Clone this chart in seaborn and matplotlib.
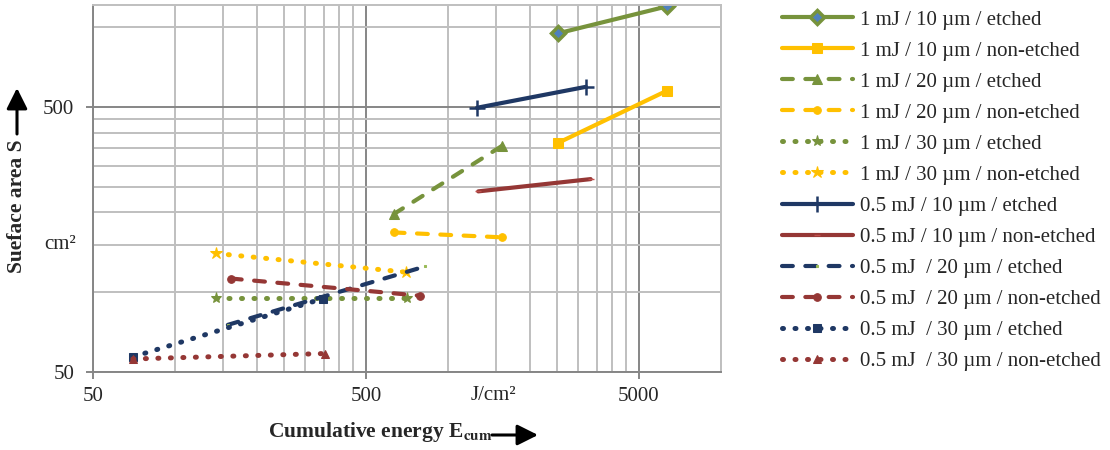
import matplotlib
matplotlib.use("Agg")
import matplotlib.pyplot as plt
from matplotlib.patches import FancyArrowPatch
import seaborn as sns
import pandas as pd

# ---------------- data ----------------
labels = [
    "1 mJ / 10 µm / etched",
    "1 mJ / 10 µm / non-etched",
    "1 mJ / 20 µm / etched",
    "1 mJ / 20 µm / non-etched",
    "1 mJ / 30 µm / etched",
    "1 mJ / 30 µm / non-etched",
    "0.5 mJ / 10 µm / etched",
    "0.5 mJ / 10 µm / non-etched",
    "0.5 mJ  / 20 µm / etched",
    "0.5 mJ  / 20 µm / non-etched",
    "0.5 mJ  / 30 µm / etched",
    "0.5 mJ  / 30 µm / non-etched",
]
e_1mJ_10_etched = [2520, 6330]
s_1mJ_10_etched = [946, 1196]
e_1mJ_10_non = [2520, 6330]
s_1mJ_10_non = [365, 575]
e_1mJ_20_etched = [632, 1574]
s_1mJ_20_etched = [197, 356]
e_1mJ_20_non = [632, 1580]
s_1mJ_20_non = [168, 161]
e_1mJ_30_etched = [141, 706]
s_1mJ_30_etched = [95, 95]
e_1mJ_30_non = [141, 700]
s_1mJ_30_non = [140, 119]
e_05mJ_10_etched = [1276, 3200]
s_05mJ_10_etched = [496, 595]
e_05mJ_10_non = [1290, 3330]
s_05mJ_10_non = [240, 267]
e_05mJ_20_etched = [156, 822]
s_05mJ_20_etched = [75.3, 125]
e_05mJ_20_non = [160, 790]
s_05mJ_20_non = [112.6, 97]
e_05mJ_30_etched = [70, 348]
s_05mJ_30_etched = [57, 94.6]
e_05mJ_30_non = [70, 354]
s_05mJ_30_non = [56, 58.7]

x_major = [50, 500, 5000]
x_major_labels = ["50", "500", "5000"]
x_minor = [100, 150, 200, 250, 300, 350, 400, 450,
           1000, 1500, 2000, 2500, 3000, 3500, 4000, 4500, 10000]
y_major = [50, 500]
y_major_labels = ["50", "500"]
y_minor = [100, 150, 200, 250, 300, 350, 400, 450, 1000]

series_x = [e_1mJ_10_etched, e_1mJ_10_non, e_1mJ_20_etched, e_1mJ_20_non,
            e_1mJ_30_etched, e_1mJ_30_non, e_05mJ_10_etched, e_05mJ_10_non,
            e_05mJ_20_etched, e_05mJ_20_non, e_05mJ_30_etched, e_05mJ_30_non]
series_y = [s_1mJ_10_etched, s_1mJ_10_non, s_1mJ_20_etched, s_1mJ_20_non,
            s_1mJ_30_etched, s_1mJ_30_non, s_05mJ_10_etched, s_05mJ_10_non,
            s_05mJ_20_etched, s_05mJ_20_non, s_05mJ_30_etched, s_05mJ_30_non]

# ---------------- styles ----------------
GREEN = "#77933C"
YELLOW = "#FFC000"
NAVY = "#1F3864"
RED = "#953735"
SOLID = "-"
DASH = (0, (2.6, 3.0))
DOT = (0, (0.2, 2.3))

styles = [
    dict(color=GREEN, linestyle=SOLID, linewidth=3.0, marker="D", markersize=7, markerfacecolor="#4F81BD", markeredgecolor=GREEN, markeredgewidth=2.5),
    dict(color=YELLOW, linestyle=SOLID, linewidth=3.0, marker="s", markersize=6.5, markerfacecolor=YELLOW, markeredgecolor=YELLOW),
    dict(color=GREEN, linestyle=DASH, linewidth=3.0, marker="^", markersize=7, markerfacecolor=GREEN, markeredgecolor=GREEN),
    dict(color=YELLOW, linestyle=DASH, linewidth=3.0, marker="o", markersize=5.5, markerfacecolor=YELLOW, markeredgecolor=YELLOW),
    dict(color=GREEN, linestyle=DOT, linewidth=3.6, marker="*", markersize=8, markerfacecolor=GREEN, markeredgecolor=GREEN),
    dict(color=YELLOW, linestyle=DOT, linewidth=3.6, marker="*", markersize=9, markerfacecolor=YELLOW, markeredgecolor=YELLOW),
    dict(color=NAVY, linestyle=SOLID, linewidth=3.0, marker="+", markersize=12, markeredgewidth=1.8, markeredgecolor=NAVY),
    dict(color=RED, linestyle=SOLID, linewidth=3.0, marker="_", markersize=5, markeredgewidth=1.0, markeredgecolor="#C0504D"),
    dict(color=NAVY, linestyle=DASH, linewidth=3.0, marker="s", markersize=2, markerfacecolor="#9BBB59", markeredgecolor="#9BBB59"),
    dict(color=RED, linestyle=DASH, linewidth=3.0, marker="o", markersize=5.5, markerfacecolor=RED, markeredgecolor=RED),
    dict(color=NAVY, linestyle=DOT, linewidth=3.6, marker="s", markersize=5.5, markerfacecolor=NAVY, markeredgecolor=NAVY),
    dict(color=RED, linestyle=DOT, linewidth=3.6, marker="^", markersize=6, markerfacecolor=RED, markeredgecolor=RED),
]

sns.set_theme(style="white")
plt.rcParams["font.family"] = ["Liberation Serif", "DejaVu Serif", "DejaVu Sans"]
plt.rcParams["mathtext.fontset"] = "stix"

fig = plt.figure(figsize=(11.1, 4.5), dpi=100)
ax = fig.add_axes([93 / 1110, 1 - 372 / 450, (721 - 93) / 1110, (372 - 5) / 450])

for lab, xs, ys, st in zip(labels, series_x, series_y, styles):
    df = pd.DataFrame({"E": xs, "S": ys})
    sns.lineplot(data=df, x="E", y="S", ax=ax, label=lab,
                 estimator=None, sort=False, **st)

for ln in ax.lines:
    ln.set_dash_capstyle("round")
    ln.set_solid_capstyle("round")

ax.set_xscale("log")
ax.set_yscale("log")
ax.set_xlim(50, 10000)
ax.set_ylim(50, 1211)

ax.set_xticks(x_major)
ax.set_xticklabels(x_major_labels)
ax.set_xticks(x_minor, minor=True)
ax.set_xticklabels([], minor=True)
ax.set_yticks(y_major)
ax.set_yticklabels(y_major_labels)
ax.set_yticks(y_minor, minor=True)
ax.set_yticklabels([], minor=True)

ax.grid(which="minor", color="#BFBFBF", linewidth=1.4)
ax.grid(which="major", color="#868686", linewidth=1.4)
ax.set_axisbelow(True)
ax.tick_params(which="minor", length=0)
ax.tick_params(which="major", length=5, width=1.4, color="#868686",
               labelsize=15, direction="out", left=True, bottom=True)
ax.tick_params(axis="x", which="major", pad=6)
ax.tick_params(axis="y", which="major", pad=8.5)
for side in ["left", "bottom"]:
    ax.spines[side].set_color("#868686")
    ax.spines[side].set_linewidth(1.4)
for side in ["top", "right"]:
    ax.spines[side].set_color("#BFBFBF")
    ax.spines[side].set_linewidth(1.4)
ax.set_xlabel("")
ax.set_ylabel("")

handles, labs = ax.get_legend_handles_labels()
for h in handles:
    h.set_dash_capstyle("round")
    h.set_solid_capstyle("round")
ax.legend(handles, labs, loc="upper left", bbox_to_anchor=(782 / 1110, 1 - 10 / 450),
          bbox_transform=fig.transFigure, frameon=False, fontsize=15,
          handlelength=3.4, handletextpad=0.35, labelspacing=0.55,
          borderpad=0, borderaxespad=0, numpoints=1)

# axis titles with arrows
fig.text(17 / 1110, 1 - 206 / 450, "Sueface area S", rotation=90,
         ha="center", va="center", fontsize=15.5, fontweight="bold")
fig.text(380 / 1110, 1 - 432 / 450, r"Cumulative energy E$_{\mathbf{cum}}$",
         ha="center", va="center", fontsize=15.5, fontweight="bold")
arrow_kw = dict(arrowstyle="-|>,head_length=0.9,head_width=0.45", lw=2.2,
                color="black", shrinkA=0, shrinkB=0, mutation_scale=14)
fig.add_artist(FancyArrowPatch((17, 450 - 134), (17, 450 - 88),
               transform=None, **arrow_kw))
fig.add_artist(FancyArrowPatch((492, 450 - 435), (538, 450 - 435),
               transform=None, **arrow_kw))

fig.text(60 / 1110, 1 - 245 / 450, "cm²", ha="center", va="center", fontsize=15)
fig.text(493 / 1110, 1 - 395 / 450, "J/cm²", ha="center", va="center", fontsize=15)

fig.savefig("out.png", dpi=100)
